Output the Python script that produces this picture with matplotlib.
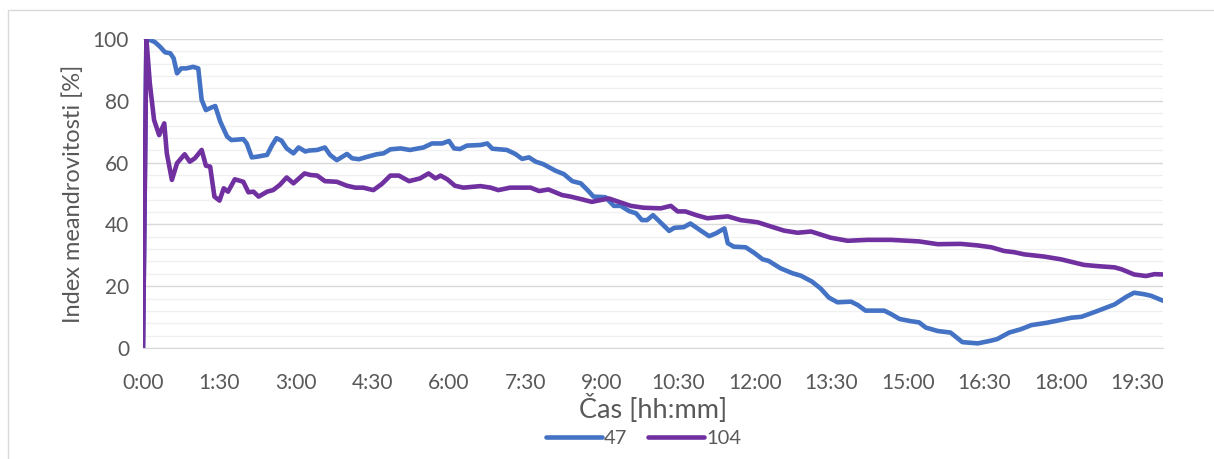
import matplotlib
matplotlib.use("Agg")
import matplotlib.pyplot as plt
from matplotlib.ticker import FuncFormatter, MultipleLocator
from matplotlib.patches import Rectangle

# Series "47": elapsed time [min] and meandering index [%]
t_47 = [0, 4, 8, 14, 20, 26, 32, 36, 40, 45, 51, 59, 65, 69, 74, 81, 85, 91, 99, 104, 118,
        122, 128, 134, 146, 152, 157, 163, 169, 177, 183, 191, 195, 205, 214, 220, 228,
        240, 246, 254, 264, 275, 283, 291, 303, 314, 330, 340, 352, 360, 366, 373, 381,
        397, 405, 411, 428, 438, 446, 454, 462, 471, 485, 495, 505, 515, 523, 530, 544,
        554, 562, 572, 580, 587, 593, 600, 609, 619, 625, 636, 644, 654, 666, 674, 684,
        688, 695, 709, 719, 729, 736, 750, 764, 774, 787, 797, 807, 817, 833, 841, 850,
        872, 880, 890, 903, 913, 921, 935, 950, 964, 982, 998, 1005, 1019, 1033, 1045,
        1064, 1080, 1092, 1104, 1123, 1143, 1157, 1166, 1178, 1186, 1200]
v_47 = [0, 100, 99.7, 99.0, 97.5, 95.7, 95.4, 93.8, 88.9, 90.5, 90.5, 91.0, 90.5, 80.3, 77.0,
        77.9, 78.3, 73.2, 68.4, 67.3, 67.6, 66.2, 61.7, 61.9, 62.5, 65.7, 67.9, 67.1, 64.6,
        63.0, 64.9, 63.6, 63.9, 64.1, 64.9, 62.5, 60.8, 62.8, 61.4, 61.1, 61.9, 62.7, 63.0,
        64.3, 64.6, 64.1, 64.9, 66.2, 66.2, 67.0, 64.6, 64.4, 65.5, 65.7, 66.2, 64.5, 64.1,
        62.8, 61.2, 61.7, 60.3, 59.5, 57.4, 56.3, 54.0, 53.3, 51.1, 49.0, 48.8, 46.0, 46.0,
        44.3, 43.6, 41.4, 41.4, 43.0, 40.6, 37.9, 38.9, 39.1, 40.3, 38.4, 36.2, 37.1, 38.7,
        33.9, 32.8, 32.6, 30.8, 28.7, 28.2, 25.8, 24.2, 23.4, 21.5, 19.3, 16.3, 14.8, 15.0,
        13.9, 12.1, 12.1, 11.0, 9.4, 8.7, 8.3, 6.6, 5.5, 5.0, 1.9, 1.5, 2.4, 2.9, 5.0, 6.1,
        7.4, 8.2, 9.1, 9.8, 10.1, 12.0, 14.1, 16.6, 17.9, 17.4, 16.9, 15.3]

# Series "104": elapsed time [min] and meandering index [%]
t_104 = [0, 4, 8, 13, 19, 25, 28, 34, 40, 49, 55, 61, 69, 74, 79, 84, 90, 95, 100, 108,
         118, 124, 130, 136, 146, 153, 161, 169, 177, 190, 197, 205, 214, 228, 240, 250,
         259, 271, 281, 291, 301, 313, 326, 336, 344, 350, 358, 367, 377, 397, 409, 418,
         432, 456, 466, 477, 493, 503, 515, 528, 548, 562, 574, 589, 609, 621, 629, 638,
         652, 664, 688, 703, 723, 739, 754, 770, 786, 809, 829, 852, 880, 913, 935, 962,
         982, 998, 1013, 1025, 1037, 1060, 1080, 1092, 1107, 1123, 1143, 1151, 1166, 1180,
         1190, 1200]
v_104 = [0, 100, 85.7, 73.8, 68.9, 72.7, 63.0, 54.4, 59.8, 62.7, 60.3, 61.4, 64.1, 59.0,
         58.7, 49.0, 47.7, 51.7, 50.6, 54.6, 53.8, 50.4, 50.6, 49.0, 50.6, 51.1, 52.8, 55.2,
         53.3, 56.5, 56.0, 55.8, 54.0, 53.8, 52.5, 51.9, 51.9, 51.1, 53.1, 55.8, 55.8, 54.0,
         54.9, 56.5, 54.9, 55.8, 54.6, 52.5, 51.9, 52.4, 51.9, 51.1, 51.9, 51.9, 50.8, 51.3,
         49.5, 49.0, 48.2, 47.3, 48.4, 47.1, 46.0, 45.4, 45.2, 46.0, 44.2, 44.2, 42.9, 42.0,
         42.6, 41.4, 40.7, 39.3, 38.0, 37.3, 37.7, 35.7, 34.7, 35.0, 35.0, 34.5, 33.6, 33.7,
         33.2, 32.6, 31.4, 31.0, 30.3, 29.6, 28.7, 27.9, 26.9, 26.5, 26.1, 25.5, 23.8, 23.3,
         23.9, 23.8]

series_names = ["47", "104"]
series_colors = ["#4472C4", "#7030A0"]

x_label = "Čas [hh:mm]"
y_label = "Index meandrovitosti [%]"

plt.rcParams["font.family"] = ["Lato", "DejaVu Sans"]
text_color = "#595959"

fig = plt.figure(figsize=(12.14, 4.59), dpi=100)
ax = fig.add_axes([0.1178, 0.2418, 0.958 - 0.1178, 0.915 - 0.2418])

# chart area border
fig.patches.append(Rectangle((8 / 1214, -0.05), 1.2, (459 - 10) / 459 + 0.05,
                             transform=fig.transFigure, fill=False,
                             edgecolor="#d9d9d9", linewidth=1.0))

ax.plot(t_47, v_47, color=series_colors[0], lw=3.3, label=series_names[0],
        solid_joinstyle="round", solid_capstyle="round")
ax.plot(t_104, v_104, color=series_colors[1], lw=3.3, label=series_names[1],
        solid_joinstyle="round", solid_capstyle="round")

ax.set_xlim(0, 1200)
ax.set_ylim(0, 100)
ax.xaxis.set_major_locator(MultipleLocator(90))
ax.xaxis.set_major_formatter(FuncFormatter(lambda m, _: f"{int(m // 60)}:{int(m % 60):02d}"))
ax.yaxis.set_major_locator(MultipleLocator(20))
ax.yaxis.set_minor_locator(MultipleLocator(4))

ax.grid(axis="y", which="major", color="#d9d9d9", lw=1.0)
ax.grid(axis="y", which="minor", color="#f0f0f0", lw=1.0)
ax.set_axisbelow(True)
for side in ["top", "right", "left"]:
    ax.spines[side].set_visible(False)
ax.spines["bottom"].set_color("#d9d9d9")
ax.tick_params(axis="both", which="both", length=0, labelsize=15, labelcolor=text_color)
ax.tick_params(axis="x", pad=18)
ax.tick_params(axis="y", pad=10)

ax.set_xlabel(x_label, fontsize=19.5, color=text_color, labelpad=1)
ax.set_ylabel(y_label, fontsize=17, color=text_color, labelpad=6)

fig.legend(loc="center", bbox_to_anchor=(0.53, 0.045), ncol=2, frameon=False,
           fontsize=14.5, labelcolor=text_color, handlelength=2.8, handletextpad=0.1,
           columnspacing=1.0)

fig.savefig("out.png", dpi=100)
